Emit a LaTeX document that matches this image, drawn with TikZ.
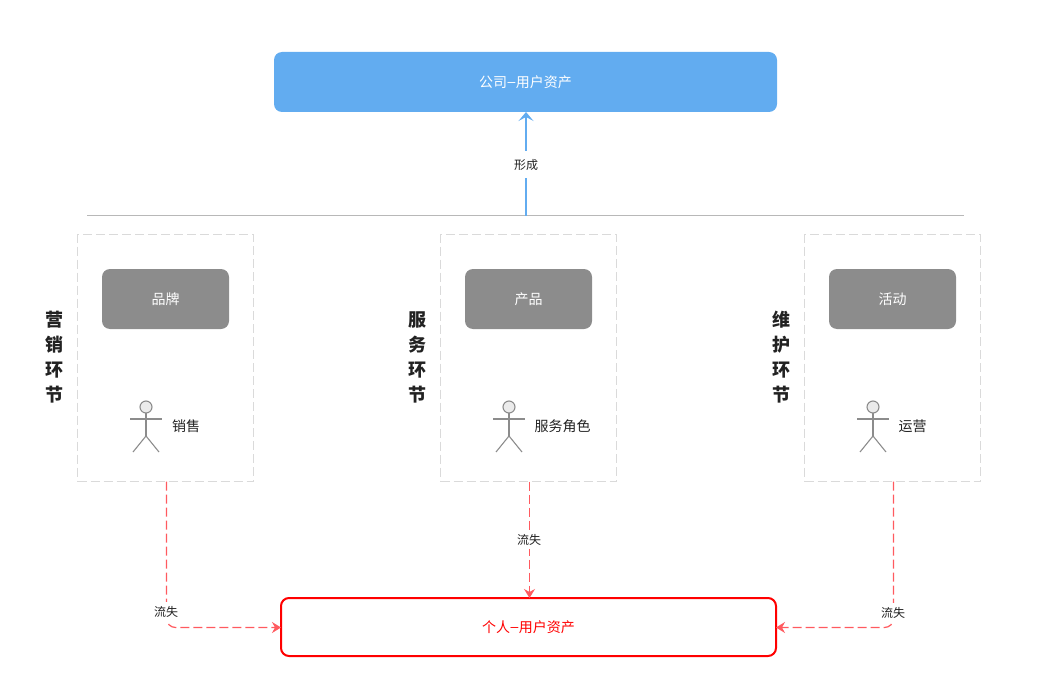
\documentclass[tikz,border=0pt]{standalone}
\usepackage{fontspec}
\setmainfont{Noto Sans CJK SC}
\newfontfamily\dashfont{Liberation Sans}
\usetikzlibrary{arrows.meta,calc}
\definecolor{blueA}{HTML}{62ACF0}
\definecolor{greyA}{HTML}{8C8C8C}
\definecolor{redA}{HTML}{FF0000}
\definecolor{flow}{HTML}{FF5A5F}
\definecolor{ink}{HTML}{222222}
\definecolor{zoneline}{HTML}{DADADA}
\newcommand{\dsh}{\kern.5pt\raisebox{1pt}{\dashfont –}\kern.5pt}
\tikzset{
  pxbox/.style={rounded corners=#1,inner sep=0pt,outer sep=0pt,anchor=north west},
  topbox/.style={pxbox=8pt,fill=blueA,text=white,font=\fontsize{14}{16}\selectfont,minimum width=503pt,minimum height=60pt},
  greybox/.style={pxbox=8pt,fill=greyA,text=white,font=\fontsize{14}{16}\selectfont,minimum width=127pt,minimum height=60pt},
  redbox/.style={pxbox=8pt,draw=redA,line width=2pt,text=redA,font=\fontsize{14}{16}\selectfont,minimum width=495pt,minimum height=58pt,anchor=center},
  zone/.style={draw=zoneline,dash pattern=on 9pt off 4pt,line width=1pt,inner sep=0pt,outer sep=0pt,minimum width=176pt,minimum height=247pt,anchor=north west},
  sidetitle/.style={font=\fontsize{18}{25}\selectfont\bfseries,text=ink,align=center,inner sep=0pt},
  small/.style={font=\fontsize{12}{14}\selectfont,text=ink,fill=white,inner xsep=2pt},
  rolename/.style={font=\fontsize{14}{16}\selectfont,text=ink,inner sep=0pt,anchor=west},
  head/.style={circle,draw=black!45,fill=black!8,line width=1.1pt,minimum size=12pt,inner sep=0pt,outer sep=0pt},
  limb/.style={draw=black!45,line width=1.1pt},
  flowline/.style={draw=flow,line width=1.2pt,dash pattern=on 9pt off 4pt,-{Stealth[length=9pt,width=11pt,inset=3pt]}},
  formline/.style={draw=blueA,line width=2pt,-{Stealth[length=9pt,width=15pt,inset=4pt]}},
}
\newcommand{\actor}[2]{%
  \node[head] (#2h) at (#1,407) {};
  \coordinate (#2hip) at (#1,436);
  \coordinate (#2la) at (#1-16,419);
  \coordinate (#2ra) at (#1+16,419);
  \coordinate (#2ll) at (#1-13,452);
  \coordinate (#2rl) at (#1+13,452);
  \draw[limb] (#2h.south) -- (#2hip);
  \draw[limb] (#2la) -- (#2ra);
  \draw[limb] (#2ll) -- (#2hip) -- (#2rl);
}
\begin{document}
\begin{tikzpicture}[x=1pt,y=-1pt]
\useasboundingbox (0,0) rectangle (1044,698);
\node[topbox] (top) at (274,52) {公司\dsh 用户资产};
\coordinate (ruleL) at (87,215.5);
\coordinate (ruleR) at (964,215.5);
\coordinate (ruleM) at (526,215.5);
\draw[black!28,line width=1pt] (ruleL) -- (ruleR);
\draw[formline] (ruleM) -- (ruleM |- top.south);
\node[small,inner ysep=7.5pt] (l0) at (526,164.5) {形成};

\node[zone] (z1) at (77.5,234.5) {};
\node[zone] (z2) at (440.5,234.5) {};
\node[zone] (z3) at (804.5,234.5) {};

\node[greybox] (b1) at (102,269) {品牌};
\node[greybox] (b2) at (465,269) {产品};
\node[greybox] (b3) at (829,269) {活动};

\node[sidetitle] (t1) at (54,357) {营\\销\\环\\节};
\node[sidetitle] (t2) at (417,357) {服\\务\\环\\节};
\node[sidetitle] (t3) at (781,357) {维\\护\\环\\节};

\actor{146}{a}
\actor{509}{b}
\actor{873}{c}
\node[rolename] (r1) at (172,426) {销售};
\node[rolename] (r2) at (534.5,426) {服务角色};
\node[rolename] (r3) at (898.5,426) {运营};

\node[redbox] (me) at (528.5,627) {个人\dsh 用户资产};

\coordinate (s1) at (166.5,481.5);
\coordinate (s2) at (529.5,481.5);
\coordinate (s3) at (893.5,481.5);
\coordinate (c1) at (166.5,627.5);
\coordinate (c3) at (893.5,627.5);

\draw[flowline,rounded corners=9pt] (s1) -- (c1) -- (c1 -| me.west);
\draw[flowline,rounded corners=9pt] (s3) -- (c3) -- (c3 -| me.east);
\draw[flowline] (s2) -- (s2 |- me.north);
\node[small,inner ysep=4pt] (l1) at (166,612) {流失};
\node[small,inner ysep=3pt] (l2) at (529,540) {流失};
\node[small,inner ysep=4pt] (l3) at (893,612.5) {流失};
\end{tikzpicture}
\end{document}
